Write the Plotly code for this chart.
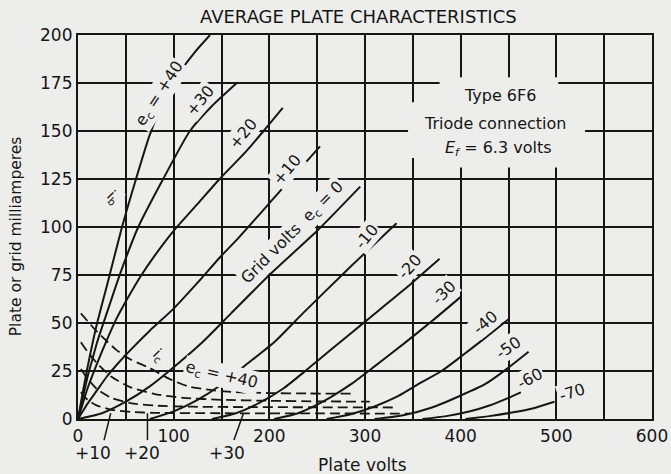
import plotly.graph_objects as go

BG = "#ededeb"
INK = "#161616"
FONT = "DejaVu Sans"

# ---------------- axis ticks ----------------
x_ticks = [0, 100, 200, 300, 400, 500, 600]
y_ticks = [0, 25, 50, 75, 100, 125, 150, 175, 200]

# ---------------- plate current (ib) curves, volts / mA ----------------
ib_p40_v = [0, 5, 10, 15, 20, 30, 46, 60, 75, 90, 107, 122, 138]
ib_p40_i = [0, 14, 27, 39, 50, 69, 100, 124, 148, 166, 181, 191, 200]

ib_p30_v = [0, 5, 10, 15, 20, 30, 45, 63, 89, 117, 140, 166]
ib_p30_i = [0, 11, 22, 31, 40, 55, 77, 100, 125, 150, 163, 175]

ib_p20_v = [0, 5, 10, 20, 30, 40, 52, 65, 80, 100, 125, 148, 175, 194, 214]
ib_p20_i = [0, 8, 16, 29, 41, 52, 63, 74, 85, 98, 112, 125, 139, 150, 162]

ib_p10_v = [0, 5, 10, 20, 30, 41, 55, 75, 100, 125, 148, 169, 210, 253]
ib_p10_i = [0, 4, 8, 15, 22, 28.5, 36, 46, 57.5, 71, 84, 95, 118, 142]

ib_0_v = [0, 25, 50, 75, 100, 130, 160, 200, 250, 295]
ib_0_i = [0, 3, 9, 17, 27, 40, 55, 75, 98, 121]

ib_m10_v = [75, 100, 125, 150, 175, 205, 235, 280, 333]
ib_m10_i = [0, 4, 10, 18, 28, 40, 55, 77, 102]

ib_m20_v = [140, 165, 190, 215, 240, 263, 302, 340, 378]
ib_m20_i = [0, 3, 8.5, 16, 26, 35.5, 51.5, 67, 83.5]

ib_m30_v = [205, 230, 250, 263, 285, 309, 340, 370, 401]
ib_m30_i = [0, 3, 7.5, 11, 18, 27, 39, 51, 64]

ib_m40_v = [260, 285, 310, 335, 357, 380, 399, 425, 450]
ib_m40_i = [0, 2.5, 6.5, 12, 18.5, 25, 32, 42, 52]

ib_m50_v = [310, 340, 370, 399, 425, 448, 471]
ib_m50_i = [0, 2, 6, 12, 18, 26, 35]

ib_m60_v = [360, 385, 410, 430, 450, 470, 490]
ib_m60_i = [0, 1.5, 4, 7, 11, 15.5, 20]

ib_m70_v = [405, 430, 455, 475, 498]
ib_m70_i = [0, 1.5, 3.5, 5.5, 9]

# ---------------- grid current (ic) curves, dashed ----------------
ic_p40_v = [3, 10, 17, 27, 40, 55, 75, 95, 115, 140, 165, 200, 240, 285]
ic_p40_i = [55, 51, 47, 42, 36, 31, 26.5, 21, 17, 15, 14, 13.5, 13.3, 13.2]

ic_p30_v = [3, 10, 20, 35, 55, 80, 110, 150, 200, 250, 305]
ic_p30_i = [40, 35, 29, 22, 16.5, 13, 11, 10, 9.5, 9.2, 9]

ic_p20_v = [3, 10, 20, 35, 55, 80, 120, 180, 250, 329]
ic_p20_i = [26, 21, 15.5, 11, 8.3, 7, 6.4, 6.2, 6.1, 6]

ic_p10_v = [3, 10, 20, 35, 55, 80, 150, 250, 347]
ic_p10_i = [14, 10, 7, 4.8, 3.7, 3.2, 3, 2.9, 2.8]

plate_curves = [
    (ib_p40_v, ib_p40_i), (ib_p30_v, ib_p30_i), (ib_p20_v, ib_p20_i),
    (ib_p10_v, ib_p10_i), (ib_0_v, ib_0_i), (ib_m10_v, ib_m10_i),
    (ib_m20_v, ib_m20_i), (ib_m30_v, ib_m30_i), (ib_m40_v, ib_m40_i),
    (ib_m50_v, ib_m50_i), (ib_m60_v, ib_m60_i), (ib_m70_v, ib_m70_i),
]
grid_curves = [
    (ic_p40_v, ic_p40_i), (ic_p30_v, ic_p30_i),
    (ic_p20_v, ic_p20_i), (ic_p10_v, ic_p10_i),
]

fig = go.Figure()
for v, i in plate_curves:
    fig.add_trace(go.Scatter(x=v, y=i, mode="lines",
                             line=dict(color=INK, width=2, shape="spline", smoothing=0.6),
                             hoverinfo="skip", showlegend=False))
for v, i in grid_curves:
    fig.add_trace(go.Scatter(x=v, y=i, mode="lines",
                             line=dict(color=INK, width=1.8, dash="10px,5px", shape="spline", smoothing=0.6),
                             hoverinfo="skip", showlegend=False))

# ---------------- curve labels ----------------
curve_labels = [
    ("e<sub>c</sub> = +40", 85.7, 169.5, -57, 16),
    ("+30", 127.5, 166, -50, 16),
    ("+20", 172.5, 148.8, -50, 16),
    ("+10", 218.5, 130, -50, 16),
    ("Grid volts  e<sub>c</sub> = 0", 224.7, 97.2, -45, 16),
    ("-10", 301.8, 94.8, -50, 16),
    ("-20", 347, 79.2, -48, 16),
    ("-30", 382.6, 65.7, -45, 16),
    ("-40", 425.4, 50.5, -40, 16),
    ("-50", 449.8, 37.5, -35, 16),
    ("-60", 472.4, 21, -28, 16),
    ("-70", 516, 14, -18, 16),
    ("i<sub>b</sub>", 36.9, 115.6, 45, 15),
    ("i<sub>c</sub>", 84.7, 33.2, 45, 15),
    ("e<sub>c</sub> = +40", 150.2, 22.8, 13, 16),
]
for txt, x, y, ang, sz in curve_labels:
    fig.add_annotation(x=x, y=y, xref="x", yref="y", text=txt, showarrow=False, textangle=ang,
                       font=dict(family=FONT, size=sz, color=INK), bgcolor=BG, borderpad=1)

# info text block
info_lines = [("Type 6F6", 441, 168.6), ("Triode connection", 436, 153.9),
              ("<i>E<sub>f</sub></i> = 6.3 volts", 439, 140.8)]
fig.add_shape(type="rect", xref="x", yref="y", x0=378, x1=502, y0=131, y1=178,
              fillcolor=BG, line=dict(width=0), layer="between")
fig.add_shape(type="rect", xref="x", yref="y", x0=345, x1=530, y0=136, y1=165,
              fillcolor=BG, line=dict(width=0), layer="between")
for txt, x, y in info_lines:
    fig.add_annotation(x=x, y=y, xref="x", yref="y", text=txt, showarrow=False,
                       font=dict(family=FONT, size=16, color=INK))

# grid-current labels below the axis with leader lines
low_labels = [("+10", 15.7, 27.2, 34.2), ("+20", 66.9, 72.6, 72.6), ("+30", 155.7, 163, 173)]
for txt, x, lx0, lx1 in low_labels:
    fig.add_annotation(x=x, y=-0.0893, xref="x", yref="paper", text=txt, showarrow=False,
                       font=dict(family=FONT, size=17, color=INK), yanchor="middle")
    fig.add_shape(type="line", xref="x", yref="paper", x0=lx0, x1=lx1, y0=-0.055, y1=0.015,
                  line=dict(color=INK, width=1.5))

# titles
fig.add_annotation(x=0.4895, y=1.0487, xref="paper", yref="paper", text="AVERAGE PLATE CHARACTERISTICS",
                   showarrow=False, font=dict(family=FONT, size=18, color=INK), yanchor="middle")
fig.add_annotation(x=0.495, y=-0.1206, xref="paper", yref="paper", text="Plate volts",
                   showarrow=False, font=dict(family=FONT, size=17, color=INK), yanchor="middle")
fig.add_annotation(x=-0.109, y=0.477, xref="paper", yref="paper", text="Plate or grid milliamperes",
                   showarrow=False, textangle=-90, font=dict(family=FONT, size=15.5, color=INK),
                   xanchor="center", yanchor="middle")

fig.update_layout(
    width=671, height=474,
    margin=dict(l=78, r=19, t=35, b=55, autoexpand=False),
    paper_bgcolor=BG, plot_bgcolor=BG,
    showlegend=False,
    font=dict(family=FONT, size=17, color=INK),
    xaxis=dict(range=[0, 600], tickvals=x_ticks, showgrid=True, gridcolor=INK, gridwidth=1.6,
               minor=dict(dtick=50, showgrid=True, gridcolor=INK, gridwidth=1.6),
               showline=True, linecolor=INK, linewidth=2.2, mirror=True, zeroline=False,
               automargin=False, ticks="", tickfont=dict(family=FONT, size=17, color=INK)),
    yaxis=dict(range=[0, 200], tickvals=y_ticks, showgrid=True, gridcolor=INK, gridwidth=1.6,
               showline=True, linecolor=INK, linewidth=2.2, mirror=True, zeroline=False,
               automargin=False, ticks="", tickfont=dict(family=FONT, size=17, color=INK)),
)

fig.write_html("out.html", config={"displayModeBar": False},
               post_script="document.body.style.margin='0';document.body.style.padding='0';"
                           "document.body.style.background='" + BG + "';")
